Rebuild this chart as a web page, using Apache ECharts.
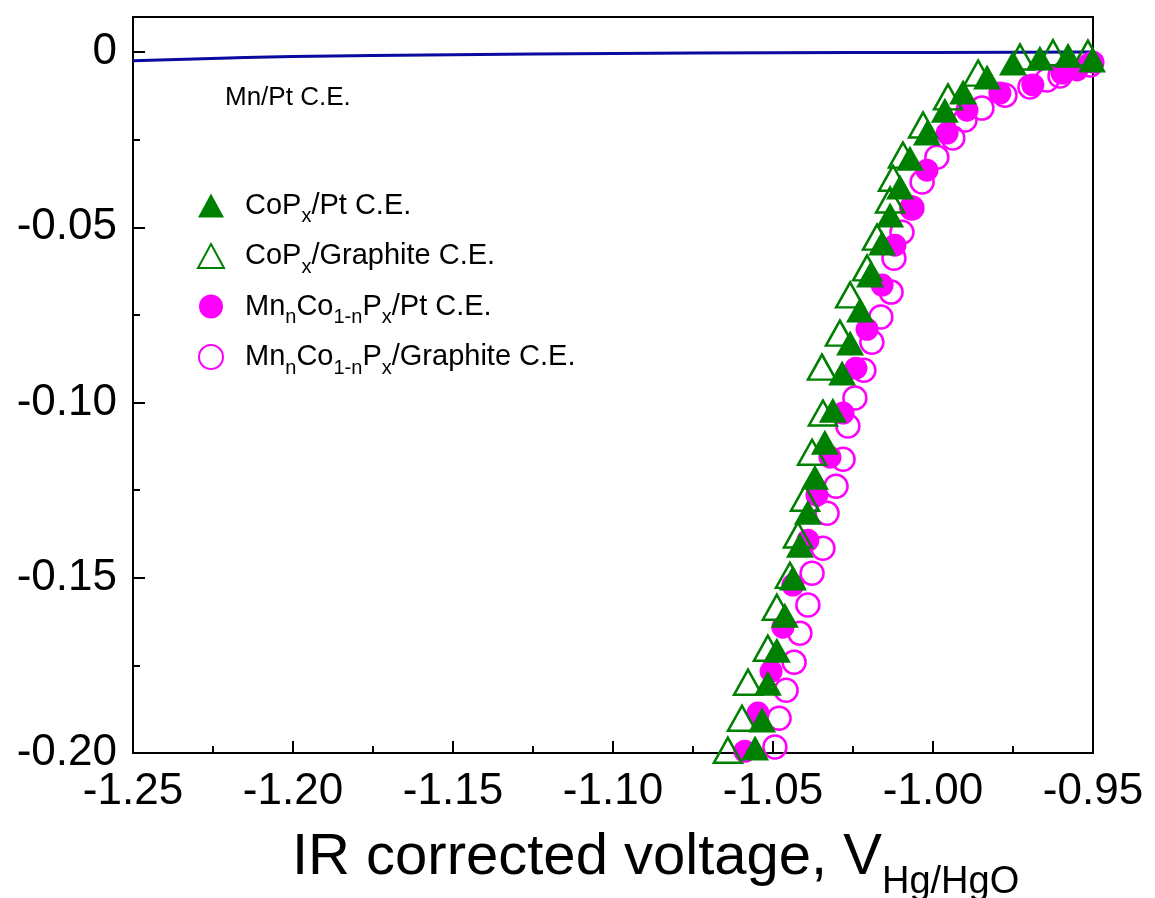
<!DOCTYPE html>
<html>
<head>
<meta charset="utf-8">
<script src="https://cdn.jsdelivr.net/npm/echarts@6/dist/echarts.min.js"></script>
<style>html,body{margin:0;padding:0;background:#fff}#c{width:1155px;height:898px}</style>
</head>
<body>
<div id="c"></div>
<script>
// ---- data ----
const xTicks = [-1.25, -1.20, -1.15, -1.10, -1.05, -1.00, -0.95];
const yTicks = [-0.20, -0.15, -0.10, -0.05, 0];

const mnPtX = [-1.25, -1.22, -1.20, -1.15, -1.10, -1.05, -1.00, -0.95];
const mnPtY = [-0.0025, -0.0017, -0.0013, -0.0008, -0.0004, -0.0002, -0.0001, 0.0000];

const copPtX = [-0.9503, -0.9578, -0.9666, -0.9750, -0.9831, -0.9906, -0.9963, -1.0019, -1.0072, -1.0103, -1.0134, -1.0159, -1.0197, -1.0228, -1.0259, -1.0284, -1.0313, -1.0338, -1.0369, -1.0391, -1.0416, -1.0438, -1.0463, -1.0488, -1.0516, -1.0534, -1.0556];
const copPtY = [-0.0023, -0.0009, -0.0017, -0.0031, -0.0071, -0.0114, -0.0166, -0.0231, -0.0303, -0.0385, -0.0465, -0.0545, -0.0636, -0.0736, -0.0830, -0.0916, -0.1022, -0.1113, -0.1213, -0.1313, -0.1407, -0.1501, -0.1607, -0.1707, -0.1801, -0.1906, -0.1986];

const copGrX = [-0.9516, -0.9625, -0.9728, -0.9859, -0.9953, -1.0031, -1.0094, -1.0125, -1.0134, -1.0175, -1.0206, -1.0259, -1.0291, -1.0347, -1.0344, -1.0378, -1.0400, -1.0422, -1.0447, -1.0488, -1.0516, -1.0578, -1.0597, -1.0641];
const copGrY = [-0.0003, -0.0002, -0.0014, -0.0060, -0.0128, -0.0208, -0.0294, -0.0360, -0.0422, -0.0528, -0.0616, -0.0693, -0.0802, -0.0899, -0.1030, -0.1142, -0.1273, -0.1378, -0.1493, -0.1584, -0.1701, -0.1798, -0.1901, -0.1992];

const mnCoPtX = [-0.9500, -0.9550, -0.9597, -0.9688, -0.9791, -0.9894, -0.9956, -1.0019, -1.0066, -1.0119, -1.0159, -1.0206, -1.0241, -1.0281, -1.0322, -1.0363, -1.0391, -1.0438, -1.0469, -1.0506, -1.0547, -1.0588];
const mnCoPtY = [-0.0029, -0.0051, -0.0060, -0.0094, -0.0117, -0.0166, -0.0231, -0.0337, -0.0442, -0.0551, -0.0665, -0.0791, -0.0902, -0.1030, -0.1156, -0.1264, -0.1393, -0.1521, -0.1641, -0.1767, -0.1886, -0.1995];

const mnCoGrX = [-0.9509, -0.9603, -0.9644, -0.9697, -0.9775, -0.9847, -0.9900, -0.9938, -0.9988, -1.0034, -1.0066, -1.0097, -1.0122, -1.0131, -1.0163, -1.0191, -1.0216, -1.0244, -1.0266, -1.0281, -1.0303, -1.0331, -1.0344, -1.0378, -1.0391, -1.0416, -1.0434, -1.0459, -1.0481, -1.0494];
const mnCoGrY = [-0.0037, -0.0068, -0.0080, -0.0100, -0.0123, -0.0160, -0.0194, -0.0245, -0.0300, -0.0371, -0.0445, -0.0514, -0.0588, -0.0685, -0.0756, -0.0828, -0.0908, -0.0987, -0.1067, -0.1162, -0.1239, -0.1316, -0.1416, -0.1487, -0.1578, -0.1658, -0.1741, -0.1821, -0.1901, -0.1983];

const names = ['CoPx/Pt C.E.', 'CoPx/Graphite C.E.', 'MnnCo1-nPx/Pt C.E.', 'MnnCo1-nPx/Graphite C.E.'];
const richNames = {
  'CoPx/Pt C.E.': '{g|}{t|CoP}{s|x}{t|/Pt C.E.}',
  'CoPx/Graphite C.E.': '{g|}{t|CoP}{s|x}{t|/Graphite C.E.}',
  'MnnCo1-nPx/Pt C.E.': '{g|}{t|Mn}{s|n}{t|Co}{s|1-n}{t|P}{s|x}{t|/Pt C.E.}',
  'MnnCo1-nPx/Graphite C.E.': '{g|}{t|Mn}{s|n}{t|Co}{s|1-n}{t|P}{s|x}{t|/Graphite C.E.}'
};

const zip = (xs, ys) => xs.map((x, i) => [x, ys[i]]);
const FONT = 'Liberation Sans, Arial, sans-serif';
const GREEN = '#008000';
const MAG = '#FF00FF';

const chart = echarts.init(document.getElementById('c'), null, {renderer: 'canvas'});
chart.setOption({
  animation: false,
  backgroundColor: '#fff',
  grid: {left: 133, right: 62, top: 17, bottom: 145, show: true, borderColor: '#000', borderWidth: 2, backgroundColor: 'transparent'},
  xAxis: {
    type: 'value', min: -1.25, max: -0.95, interval: 0.05,
    axisLine: {show: true, onZero: false, lineStyle: {color: '#000', width: 2}},
    axisTick: {show: true, inside: true, length: 12, lineStyle: {color: '#000', width: 2}},
    minorTick: {show: true, splitNumber: 2, length: 7, lineStyle: {color: '#000', width: 2}},
    splitLine: {show: false}, minorSplitLine: {show: false},
    axisLabel: {color: '#000', fontSize: 44, fontFamily: FONT, margin: 17,
      formatter: v => xTicks.some(t => Math.abs(t - v) < 1e-6) ? v.toFixed(2) : ''}
  },
  yAxis: {
    type: 'value', min: -0.20, max: 0.01, interval: 0.05,
    axisLine: {show: true, onZero: false, lineStyle: {color: '#000', width: 2}},
    axisTick: {show: true, inside: true, length: 12, lineStyle: {color: '#000', width: 2}},
    minorTick: {show: true, splitNumber: 2, length: 7, lineStyle: {color: '#000', width: 2}},
    splitLine: {show: false}, minorSplitLine: {show: false},
    axisLabel: {color: '#000', fontSize: 44, fontFamily: FONT, margin: 16, showMaxLabel: false,
      formatter: v => {
        if (!yTicks.some(t => Math.abs(t - v) < 1e-6)) return '';
        return Math.abs(v) < 1e-9 ? '0' : v.toFixed(2);
      }}
  },
  legend: {
    orient: 'vertical', left: 192, top: 186, itemGap: 15, itemWidth: 26, itemHeight: 24,
    data: names,
    formatter: n => richNames[n],
    textStyle: {
      fontFamily: FONT, color: '#000',
      rich: {
        g: {width: 16},
        t: {fontSize: 29, fontFamily: FONT, color: '#000', lineHeight: 32, verticalAlign: 'middle'},
        s: {fontSize: 20, fontFamily: FONT, color: '#000', padding: [22, 0, 0, 0], verticalAlign: 'middle'}
      }
    }
  },
  graphic: [
    {type: 'text', left: 225, top: 85, style: {text: 'Mn/Pt C.E.', fontSize: 26, fontFamily: FONT, fill: '#000'}},
    {type: 'text', left: 292, top: 829, style: {
      text: '{a|IR corrected voltage, V}{b|Hg/HgO}',
      rich: {
        a: {fontSize: 58, fontFamily: FONT, fill: '#000', color: '#000', lineHeight: 62, verticalAlign: 'middle'},
        b: {fontSize: 38, fontFamily: FONT, fill: '#000', color: '#000', padding: [50, 0, 0, 0], verticalAlign: 'middle'}
      }
    }}
  ],
  series: [
    {name: 'Mn/Pt C.E.', type: 'line', data: zip(mnPtX, mnPtY), smooth: true, showSymbol: false,
      lineStyle: {color: '#0A0AA0', width: 3}, itemStyle: {color: '#0A0AA0'}, z: 1},
    {name: names[3], type: 'scatter', symbol: 'circle', symbolSize: 23, data: zip(mnCoGrX, mnCoGrY),
      itemStyle: {color: 'rgba(255,255,255,0)', borderColor: MAG, borderWidth: 2.5, opacity: 1}, z: 2},
    {name: names[2], type: 'scatter', symbol: 'circle', symbolSize: 23, data: zip(mnCoPtX, mnCoPtY),
      itemStyle: {color: MAG, opacity: 1}, z: 3},
    {name: names[1], type: 'scatter', symbol: 'triangle', symbolSize: [28, 25], data: zip(copGrX, copGrY),
      itemStyle: {color: 'rgba(255,255,255,0)', borderColor: GREEN, borderWidth: 2.5, opacity: 1}, z: 4},
    {name: names[0], type: 'scatter', symbol: 'triangle', symbolSize: [28, 25], data: zip(copPtX, copPtY),
      itemStyle: {color: GREEN, opacity: 1}, z: 5}
  ]
});
</script>
</body>
</html>
